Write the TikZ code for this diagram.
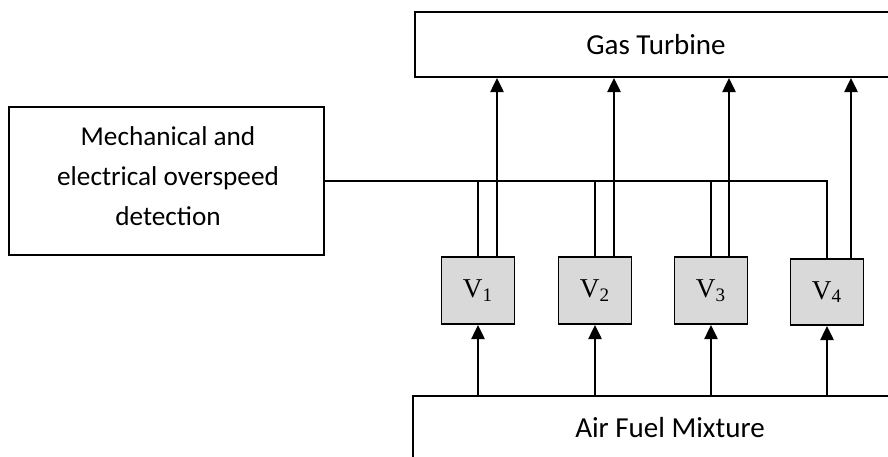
\documentclass[tikz,border=0pt]{standalone}
\usepackage{fontspec}
\setmainfont{Carlito}
\newfontfamily\valvefont{Liberation Serif}
\usetikzlibrary{arrows.meta}
\definecolor{valvegray}{HTML}{D9D9D9}
\tikzset{
  block/.style={draw, line width=1.1pt, inner sep=0pt, align=center,
    font=\fontsize{16.5}{22.5}\selectfont},
  valve/.style={draw, line width=1.1pt, fill=valvegray, inner sep=0pt,
    minimum width=73\pxu, minimum height=67\pxu,
    font=\valvefont\fontsize{15.5}{18}\selectfont},
  link/.style={line width=1.1pt},
  feed/.style={line width=1.1pt, -{Triangle[width=7.5pt,length=8pt]}}
}
\newlength{\pxu}
\setlength{\pxu}{0.02cm}
\begin{document}
\begin{tikzpicture}[x=0.02cm, y=-0.02cm]
\useasboundingbox (0,0) rectangle (888,456);
\clip (0,0) rectangle (888,456);
% blocks
\node[block, minimum width=482\pxu, minimum height=65\pxu] (gt) at (656,44.5) {Gas Turbine};
\node[block, minimum width=315\pxu, minimum height=148\pxu] (det) at (166.5,181) {};
\node[align=center, inner sep=0pt, font=\fontsize{15.5}{22.7}\selectfont] (dettext)
  at (168,176) {Mechanical and\\electrical overspeed\\detection};
\node[block, minimum width=514\pxu, minimum height=64\pxu] (afm) at (670,428) {Air Fuel Mixture};
% valves
\node[valve] (v1) at (478,290.5) {V\textsubscript{1}};
\node[valve] (v2) at (595,290.5) {V\textsubscript{2}};
\node[valve] (v3) at (711,290.5) {V\textsubscript{3}};
\node[valve, minimum height=66\pxu] (v4) at (827,292) {V\textsubscript{4}};
% overspeed trip line
\draw[link] (det.east) -| (v4.north);
\foreach \v in {v1,v2,v3}
  \draw[link] (\v.north) -- (\v.north |- det.east);
% fuel feed and turbine supply
\foreach \v/\dx in {v1/19,v2/19,v3/18,v4/24}{
  \draw[feed] (\v.south |- afm.north) -- (\v.south);
  \coordinate (\v top) at ([xshift=\dx\pxu]\v.north);
  \draw[feed] (\v top) -- (\v top |- gt.south);
}
\end{tikzpicture}
\end{document}
